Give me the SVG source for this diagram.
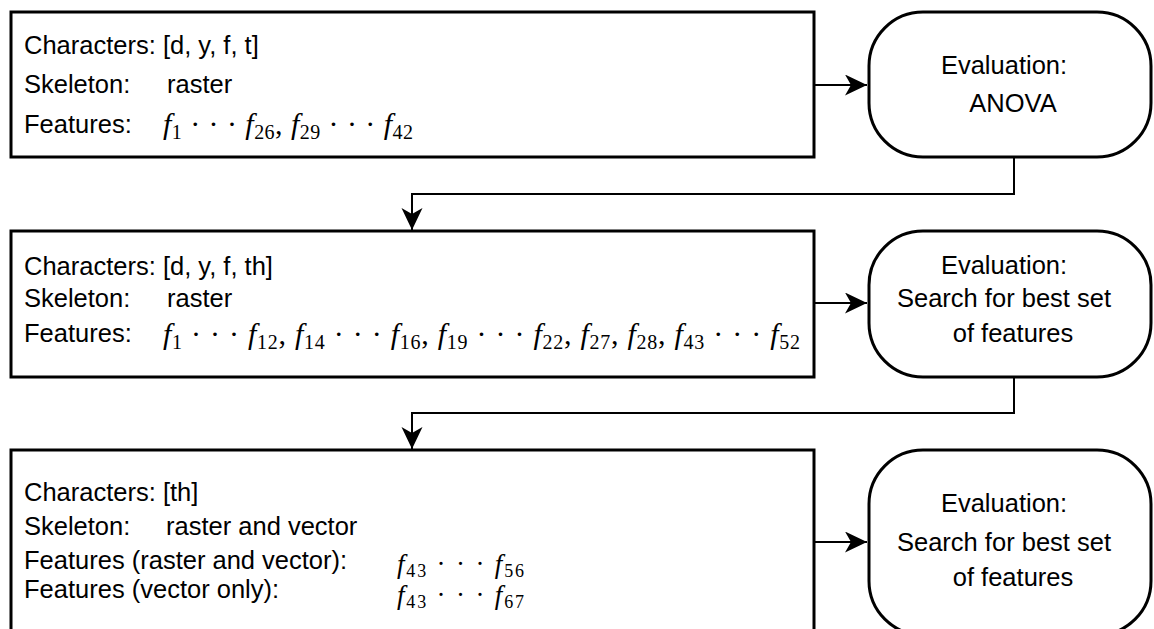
<svg xmlns="http://www.w3.org/2000/svg" width="1154" height="629" viewBox="0 0 1154 629">
<style>
.box{fill:#fff;stroke:#000;stroke-width:3}
.t{font-family:"Liberation Sans",Arial,sans-serif;font-size:25.5px;fill:#000}
.e{font-family:"Liberation Sans",Arial,sans-serif;font-size:25.5px;fill:#000;text-anchor:middle}
.m{font-family:"Liberation Serif","Times New Roman",serif;font-size:30px;fill:#000}
.m3{font-family:"Liberation Serif","Times New Roman",serif;font-size:27px;fill:#000}
.i{font-style:italic}
.s{font-size:20px}
.s3{font-size:18px}
.c{fill:none;stroke:#000;stroke-width:2}
</style>
<defs>
<marker id="ah" markerUnits="userSpaceOnUse" markerWidth="24" markerHeight="22" refX="22" refY="10.5" orient="auto">
<path d="M0,0 L22,10.5 L0,21 L6,10.5 z" fill="#000"/>
</marker>
</defs>
<rect width="1154" height="629" fill="#fff"/>
<g id="connectors">
<path class="c" d="M814,85 H867" marker-end="url(#ah)"/>
<path class="c" d="M1014,157 V194 H412 V230" marker-end="url(#ah)"/>
<path class="c" d="M814,303 H867" marker-end="url(#ah)"/>
<path class="c" d="M1014,377 V413 H412 V449" marker-end="url(#ah)"/>
<path class="c" d="M814,542 H867" marker-end="url(#ah)"/>
</g>
<g id="step1">
<rect class="box" x="11" y="12" width="803" height="145"/>
<text class="t" x="24" y="54">Characters: [d, y, f, t]</text>
<text class="t" x="24" y="93">Skeleton:</text>
<text class="t" x="167" y="93">raster</text>
<text class="t" x="24" y="133">Features:</text>
<text class="m" x="163" y="134" textLength="250" lengthAdjust="spacing"><tspan class="i">f</tspan><tspan class="s" dy="5">1</tspan><tspan dy="-5"> · · · </tspan><tspan class="i">f</tspan><tspan class="s" dy="5">26</tspan><tspan dy="-5">, </tspan><tspan class="i">f</tspan><tspan class="s" dy="5">29</tspan><tspan dy="-5"> · · · </tspan><tspan class="i">f</tspan><tspan class="s" dy="5">42</tspan></text>
</g>
<g id="eval1">
<rect class="box" x="869" y="12" width="282" height="145" rx="54" ry="54"/>
<text class="e" x="1004" y="74">Evaluation:</text>
<text class="e" x="1013" y="112">ANOVA</text>
</g>
<g id="step2">
<rect class="box" x="11" y="231" width="803" height="146"/>
<text class="t" x="24" y="275">Characters: [d, y, f, th]</text>
<text class="t" x="24" y="307">Skeleton:</text>
<text class="t" x="167" y="307">raster</text>
<text class="t" x="24" y="342">Features:</text>
<text class="m" x="163" y="344" textLength="637" lengthAdjust="spacing"><tspan class="i">f</tspan><tspan class="s" dy="5">1</tspan><tspan dy="-5"> · · · </tspan><tspan class="i">f</tspan><tspan class="s" dy="5">12</tspan><tspan dy="-5">, </tspan><tspan class="i">f</tspan><tspan class="s" dy="5">14</tspan><tspan dy="-5"> · · · </tspan><tspan class="i">f</tspan><tspan class="s" dy="5">16</tspan><tspan dy="-5">, </tspan><tspan class="i">f</tspan><tspan class="s" dy="5">19</tspan><tspan dy="-5"> · · · </tspan><tspan class="i">f</tspan><tspan class="s" dy="5">22</tspan><tspan dy="-5">, </tspan><tspan class="i">f</tspan><tspan class="s" dy="5">27</tspan><tspan dy="-5">, </tspan><tspan class="i">f</tspan><tspan class="s" dy="5">28</tspan><tspan dy="-5">, </tspan><tspan class="i">f</tspan><tspan class="s" dy="5">43</tspan><tspan dy="-5"> · · · </tspan><tspan class="i">f</tspan><tspan class="s" dy="5">52</tspan></text>
</g>
<g id="eval2">
<rect class="box" x="869" y="231" width="282" height="146" rx="54" ry="54"/>
<text class="e" x="1004" y="274">Evaluation:</text>
<text class="e" x="1004" y="307">Search for best set</text>
<text class="e" x="1013" y="342">of features</text>
</g>
<g id="step3">
<rect class="box" x="11" y="450" width="803" height="185"/>
<text class="t" x="24" y="501">Characters: [th]</text>
<text class="t" x="24" y="535">Skeleton:</text>
<text class="t" x="166" y="535">raster and vector</text>
<text class="t" x="24" y="569">Features (raster and vector):</text>
<text class="m3" x="397" y="573" textLength="127" lengthAdjust="spacing"><tspan class="i">f</tspan><tspan class="s3" dy="4">43</tspan><tspan dy="-4"> · · · </tspan><tspan class="i">f</tspan><tspan class="s3" dy="4">56</tspan></text>
<text class="t" x="24" y="598">Features (vector only):</text>
<text class="m3" x="397" y="604" textLength="127" lengthAdjust="spacing"><tspan class="i">f</tspan><tspan class="s3" dy="4">43</tspan><tspan dy="-4"> · · · </tspan><tspan class="i">f</tspan><tspan class="s3" dy="4">67</tspan></text>
</g>
<g id="eval3">
<rect class="box" x="869" y="450" width="282" height="185" rx="54" ry="54"/>
<text class="e" x="1004" y="512">Evaluation:</text>
<text class="e" x="1004" y="551">Search for best set</text>
<text class="e" x="1013" y="586">of features</text>
</g>
</svg>
